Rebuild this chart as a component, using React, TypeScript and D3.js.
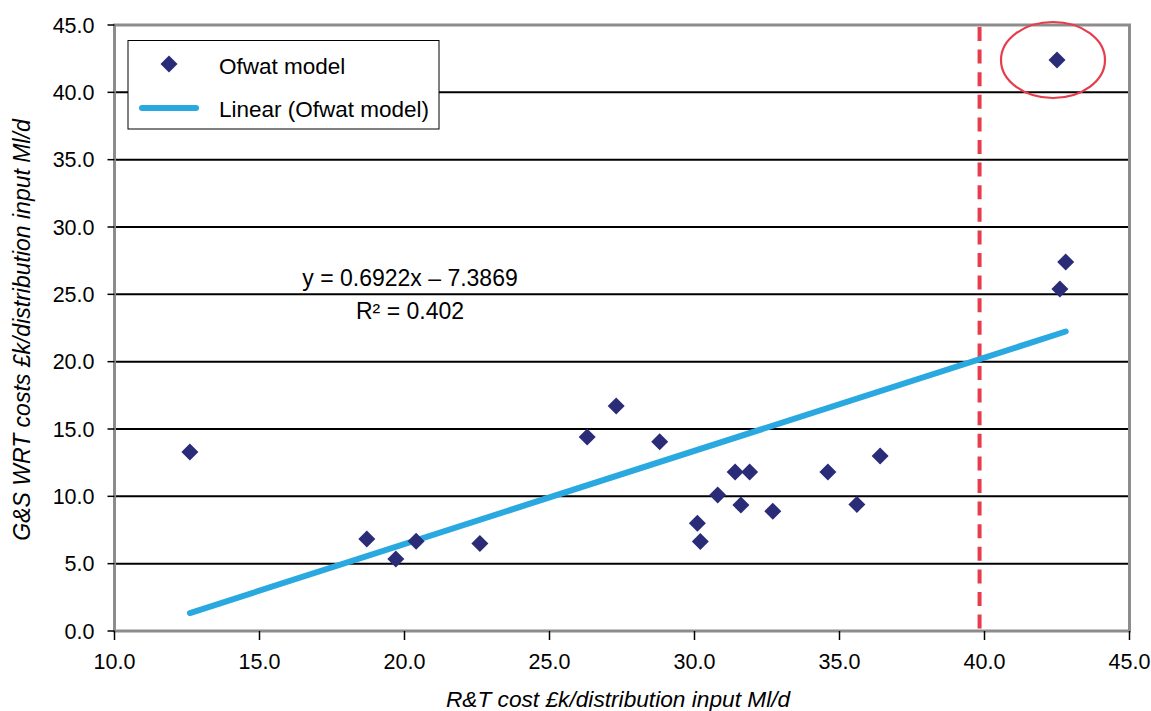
import React from "react";
import * as d3 from "d3";

const xValues = [12.6, 18.7, 19.7, 20.4, 22.6, 26.3, 27.3, 28.8, 30.1, 30.2, 30.8, 31.4, 31.6, 31.9, 32.7, 34.6, 35.6, 36.4, 42.5, 42.8, 42.6];
const yValues = [13.3, 6.84, 5.35, 6.66, 6.5, 14.4, 16.7, 14.05, 8.0, 6.65, 10.1, 11.8, 9.35, 11.8, 8.9, 11.8, 9.4, 13.0, 42.4, 27.4, 25.4];
const xTicks = [10, 15, 20, 25, 30, 35, 40, 45];
const yTicks = [0, 5, 10, 15, 20, 25, 30, 35, 40, 45];
const slope = 0.6922;
const intercept = -7.3869;
const thresholdX = 39.83;
const outlierIndex = 18;

const W = 1151, H = 711;
const FONT = "'Liberation Sans', Arial, sans-serif";

export default function App() {
  const x = d3.scaleLinear().domain([10, 45]).range([114.5, 1129.5]);
  const y = d3.scaleLinear().domain([0, 45]).range([631, 25]);
  const xs = d3.extent(xValues) as [number, number];
  const trend = d3.line<number>().x(d => x(d)).y(d => y(slope * d + intercept));
  const diamond = (cx: number, cy: number, r = 8.5) =>
    `M${cx},${cy - r}L${cx + r},${cy}L${cx},${cy + r}L${cx - r},${cy}Z`;
  const fmt = d3.format(".1f");
  return (
    <svg width={W} height={H} style={{ position: "absolute", left: 0, top: 0, background: "#fff" }} fontFamily={FONT}>
      {/* gridlines */}
      {yTicks.filter(t => t > 0 && t < 45).map(t => (
        <line key={"g" + t} x1={x(10)} x2={x(45)} y1={y(t)} y2={y(t)} stroke="#000" strokeWidth={2} />
      ))}
      {/* frame */}
      <rect x={x(10)} y={y(45)} width={x(45) - x(10)} height={y(0) - y(45)} fill="none" stroke="#8c8c8c" strokeWidth={3} />
      {/* y ticks */}
      {yTicks.map(t => (
        <g key={"y" + t}>
          <line x1={x(10) - 7} x2={x(10)} y1={y(t)} y2={y(t)} stroke="#000" strokeWidth={1.5} />
          <text x={x(10) - 20} y={y(t)} dy="0.35em" textAnchor="end" fontSize={21.5} fill="#000">{fmt(t)}</text>
        </g>
      ))}
      {/* x ticks */}
      {xTicks.map(t => (
        <g key={"x" + t}>
          <line x1={x(t)} x2={x(t)} y1={y(0)} y2={y(0) + 9} stroke="#000" strokeWidth={1.5} />
          <text x={x(t)} y={y(0) + 38} textAnchor="middle" fontSize={21.5} fill="#000">{fmt(t)}</text>
        </g>
      ))}
      {/* threshold */}
      <line x1={x(thresholdX)} x2={x(thresholdX)} y1={y(45) + 2} y2={y(0)} stroke="#e63c4b" strokeWidth={4} strokeDasharray="14,8.6" />
      {/* trend line */}
      <path d={trend(xs) || ""} fill="none" stroke="#2aa9e0" strokeWidth={6} strokeLinecap="round" />
      {/* points */}
      {xValues.map((v, i) => (
        <path key={"p" + i} d={diamond(x(v), y(yValues[i]))} fill="#2a2c78" />
      ))}
      {/* outlier ellipse */}
      <ellipse cx={x(xValues[outlierIndex]) - 4} cy={y(yValues[outlierIndex])} rx={52} ry={38} fill="none" stroke="#e63c4b" strokeWidth={2.2} />
      {/* equation */}
      <text x={410} y={286} textAnchor="middle" fontSize={23} fill="#000">y = 0.6922x – 7.3869</text>
      <text x={410} y={319} textAnchor="middle" fontSize={23} fill="#000">R² = 0.402</text>
      {/* legend */}
      <rect x={128} y={40.5} width={311} height={88.5} fill="#fff" stroke="#000" strokeWidth={1} />
      <path d={diamond(169, 64)} fill="#2a2c78" />
      <text x={219} y={66} dy="0.35em" fontSize={22.5} fill="#000">Ofwat model</text>
      <line x1={142} x2={196} y1={108} y2={108} stroke="#2aa9e0" strokeWidth={6} strokeLinecap="round" />
      <text x={219} y={109} dy="0.35em" fontSize={22.5} fill="#000">Linear (Ofwat model)</text>
      {/* axis titles */}
      <text x={618} y={707} textAnchor="middle" fontSize={22.7} fontStyle="italic" fill="#000">R&amp;T cost £k/distribution input Ml/d</text>
      <text transform={`translate(30,${330}) rotate(-90)`} textAnchor="middle" fontSize={23} fontStyle="italic" fill="#000">G&amp;S WRT costs £k/distribution input Ml/d</text>
    </svg>
  );
}
